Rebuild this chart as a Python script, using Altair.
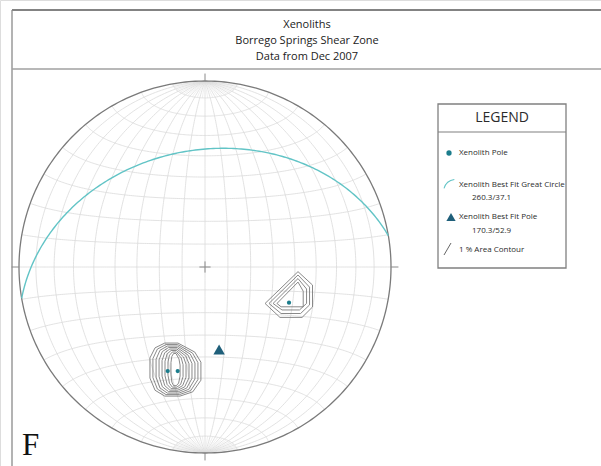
import numpy as np
import pandas as pd
import altair as alt

# ---------------- data ----------------
# individual xenolith poles (trend, plunge in degrees)
pole_trend = [199.7, 194.7, 113.0]
pole_plunge = [40.3, 41.7, 49.4]

# best-fit great circle (strike/dip, right-hand rule) and its pole (trend/plunge)
fit_strike, fit_dip = 260.3, 37.1
fit_pole_trend, fit_pole_plunge = 170.3, 52.9

# 1 % area contours, net coordinates (primitive radius = 1)
# eastern cluster: explicit rings, outer to inner
east_rings_x = [
    [0.500, 0.578, 0.578, 0.522, 0.403, 0.323],
    [0.500, 0.562, 0.562, 0.514, 0.409, 0.344],
    [0.500, 0.546, 0.546, 0.508, 0.414, 0.366],
    [0.500, 0.528, 0.528, 0.409, 0.387],
]
east_rings_y = [
    [-0.025, -0.097, -0.215, -0.271, -0.271, -0.196],
    [-0.043, -0.108, -0.204, -0.250, -0.250, -0.196],
    [-0.062, -0.118, -0.196, -0.231, -0.231, -0.196],
    [-0.081, -0.130, -0.214, -0.214, -0.196],
]
# south-western cluster: ring extents (left, right, top, bottom), outer to inner
sw_left = [-0.296, -0.280, -0.263, -0.247, -0.231, -0.215, -0.199, -0.183]
sw_right = [-0.022, -0.038, -0.054, -0.070, -0.086, -0.102, -0.118, -0.134]
sw_top = [-0.409, -0.417, -0.425, -0.433, -0.441, -0.449, -0.457, -0.465]
sw_bottom = [-0.694, -0.686, -0.678, -0.670, -0.662, -0.654, -0.646, -0.638]

title_lines = ["Xenoliths", "Borrego Springs Shear Zone", "Data from Dec 2007"]

# ---------------- layout ----------------
W, H = 601, 466
CX, CY, R = 205, 267, 186          # net centre and primitive radius in pixels
X_DOM = [-CX / R, (W - CX) / R]
Y_DOM = [-(H - CY) / R, CY / R]
FONT = "Open Sans"
TEAL = "#1c7d8c"
DARK_TEAL = "#1f5f7a"
CYAN = "#62c4c6"


def project(trend, plunge):
    """Lower-hemisphere equal-area projection of a line, unit primitive."""
    t = np.radians(np.asarray(trend, dtype=float))
    p = np.radians(np.asarray(plunge, dtype=float))
    r = np.sqrt(2) * np.sin((np.pi / 2 - p) / 2)
    return r * np.sin(t), r * np.cos(t)


def net_xy(lon, lat):
    """Equatorial Schmidt net, unit primitive."""
    lam, phi = np.radians(lon), np.radians(lat)
    k = np.sqrt(1 / (1 + np.cos(phi) * np.cos(lam)))
    return k * np.cos(phi) * np.sin(lam), k * np.sin(phi)


# grid: great circles (meridians) and small circles (parallels) every 10 degrees
rows = []
steps = np.arange(-90, 90.5, 1.0)
for lon in range(-80, 90, 10):
    x, y = net_xy(lon, steps)
    rows += [dict(x=a, y=b, g=f"m{lon}", o=i) for i, (a, b) in enumerate(zip(x, y))]
for lat in range(-80, 90, 10):
    x, y = net_xy(steps, lat)
    rows += [dict(x=a, y=b, g=f"p{lat}", o=i) for i, (a, b) in enumerate(zip(x, y))]
grid_df = pd.DataFrame(rows)

# intermediate 5-degree meridians close to the N and S poles
fan = []
cap = np.arange(80, 90.5, 0.5)
for lon in range(-85, 90, 10):
    for side, sgn in (("n", 1), ("s", -1)):
        x, y = net_xy(lon, sgn * cap)
        fan += [dict(x=a, y=b, g=f"f{side}{lon}", o=i) for i, (a, b) in enumerate(zip(x, y))]
fan_df = pd.DataFrame(fan)

ang = np.radians(np.arange(0, 361, 1.0))
prim_df = pd.DataFrame({"x": np.sin(ang), "y": np.cos(ang), "o": np.arange(len(ang))})

# ticks at N, S, E, W and centre cross
tk = 0.04
tick_df = pd.DataFrame({
    "x": [0, 0, -1 - tk, 1, -0.03, 0],
    "x2": [0, 0, -1, 1 + tk, 0.03, 0],
    "y": [1, -1 - tk, 0, 0, 0, -0.03],
    "y2": [1 + tk, -1, 0, 0, 0, 0.03],
})

# best-fit great circle
st, dp = np.radians(fit_strike), np.radians(fit_dip)
dd = np.radians(fit_strike + 90)
s_vec = np.array([np.cos(st), np.sin(st), 0.0])
d_vec = np.array([np.cos(dp) * np.cos(dd), np.cos(dp) * np.sin(dd), np.sin(dp)])
tt = np.radians(np.arange(0, 180.5, 1.0))
v = np.outer(np.cos(tt), s_vec) + np.outer(np.sin(tt), d_vec)
gc_trend = np.degrees(np.arctan2(v[:, 1], v[:, 0]))
gc_plunge = np.degrees(np.arcsin(np.clip(v[:, 2], -1, 1)))
gx, gy = project(gc_trend, gc_plunge)
gc_df = pd.DataFrame({"x": gx, "y": gy, "o": np.arange(len(gx))})

px, py = project(pole_trend, pole_plunge)
poles_df = pd.DataFrame({"x": px, "y": py})
fx, fy = project([fit_pole_trend], [fit_pole_plunge])
fit_df = pd.DataFrame({"x": fx, "y": fy})

# contour polygons
crow = []
for i, (xs_, ys_) in enumerate(zip(east_rings_x, east_rings_y)):
    xs2, ys2 = xs_ + xs_[:1], ys_ + ys_[:1]
    crow += [dict(x=a, y=b, g=f"e{i}", o=j) for j, (a, b) in enumerate(zip(xs2, ys2))]
# octagonal ring outline as fractions of each ring's extent
fx_t = [0.29, 0.55, 0.88, 1.00, 1.00, 0.84, 0.59, 0.29, 0.10, 0.00, 0.00, 0.10, 0.29]
fy_t = [0.00, 0.00, 0.17, 0.36, 0.70, 0.92, 1.00, 1.00, 0.89, 0.66, 0.28, 0.09, 0.00]
for i, (l, r_, t, b) in enumerate(zip(sw_left, sw_right, sw_top, sw_bottom)):
    for j, (u, w) in enumerate(zip(fx_t, fy_t)):
        crow.append(dict(x=l + u * (r_ - l), y=t + w * (b - t), g=f"s{i}", o=j))
cont_df = pd.DataFrame(crow)

xs = alt.Scale(domain=X_DOM, nice=False, zero=False)
ys = alt.Scale(domain=Y_DOM, nice=False, zero=False)
X = alt.X("x:Q", scale=xs, axis=None)
Y = alt.Y("y:Q", scale=ys, axis=None)

grid = alt.Chart(grid_df).mark_line(color="#dadada", strokeWidth=0.8).encode(
    X, Y, detail="g:N", order="o:Q")
fan_lines = alt.Chart(fan_df).mark_line(color="#e2e2e2", strokeWidth=0.6).encode(
    X, Y, detail="g:N", order="o:Q")
prim = alt.Chart(prim_df).mark_line(color="#7a7a7a", strokeWidth=1.3).encode(X, Y, order="o:Q")
ticks = alt.Chart(tick_df).mark_rule(color="#8a8a8a", strokeWidth=1).encode(
    X, Y, x2="x2:Q", y2="y2:Q")
gc = alt.Chart(gc_df).mark_line(color=CYAN, strokeWidth=1.4).encode(X, Y, order="o:Q")
cont = alt.Chart(cont_df).mark_line(color="#7c7c7c", strokeWidth=0.9).encode(
    X, Y, detail="g:N", order="o:Q")
poles = alt.Chart(poles_df).mark_point(shape="circle", filled=True, size=18, color=TEAL,
                                       opacity=1).encode(X, Y)
fitp = alt.Chart(fit_df).mark_point(shape="triangle-up", filled=True, size=130,
                                    color=DARK_TEAL, opacity=1).encode(X, Y)

one = pd.DataFrame({"_": [0]})


def text(txt, x, y, size, align="left", font=FONT, color="#2b2b2b", **kw):
    return alt.Chart(one).mark_text(text=txt, fontSize=size, font=font, align=align,
                                    baseline="middle", color=color, **kw).encode(
        x=alt.value(x), y=alt.value(y))


def rule(x1, y1, x2, y2, color="#888888", width=1.2):
    return alt.Chart(one).mark_rule(color=color, strokeWidth=width).encode(
        x=alt.value(x1), x2=alt.value(x2), y=alt.value(y1), y2=alt.value(y2))


frame = [
    rule(12, 10, W, 10, "#5a5a5a", 1.3),
    rule(12, 10, 12, H, "#8a8a8a", 1.3),
    rule(12, 69, W, 69, "#a0a0a0", 1.6),
]
titles = [text(t, 307, yy, 11, align="center", color="#222222")
          for t, yy in zip(title_lines, [25, 41, 57])]

legend_box = alt.Chart(one).mark_rect(fill="white", stroke="#808080", strokeWidth=1.3).encode(
    x=alt.value(438), x2=alt.value(566), y=alt.value(104), y2=alt.value(268))
legend = [
    legend_box,
    rule(438, 132, 566, 132, "#808080", 1.2),
    text("LEGEND", 502, 118, 14, align="center"),
    alt.Chart(one).mark_point(shape="circle", filled=True, size=28, color=TEAL, opacity=1).encode(
        x=alt.value(449), y=alt.value(153)),
    text("Xenolith Pole", 459, 153, 8),
    alt.Chart(one).mark_arc(radius=13, radius2=12, theta=5.0, theta2=6.15, color=CYAN).encode(
        x=alt.value(456), y=alt.value(192)),
    text("Xenolith Best Fit Great Circle", 459, 185, 8),
    text("260.3/37.1", 472, 198, 8),
    alt.Chart(one).mark_point(shape="triangle-up", filled=True, size=85, color=DARK_TEAL,
                              opacity=1).encode(x=alt.value(451), y=alt.value(217)),
    text("Xenolith  Best Fit Pole", 459, 217, 8),
    text("170.3/52.9", 472, 231, 8),
    rule(444, 255, 451, 243, "#666666", 1.0),
    text("1 % Area Contour", 459, 250, 8),
]

letter = text("F", 22, 446, 31, font="Liberation Serif", color="#111111")

chart = alt.layer(
    fan_lines, grid, prim, ticks, gc, cont, poles, fitp, *frame, *titles, *legend, letter
).properties(width=W, height=H, padding=0, autosize=alt.AutoSizeParams(type="none")
).configure_view(stroke=None).configure(background="white")

chart.save("out.html", embed_options={"renderer": "svg", "actions": False})
